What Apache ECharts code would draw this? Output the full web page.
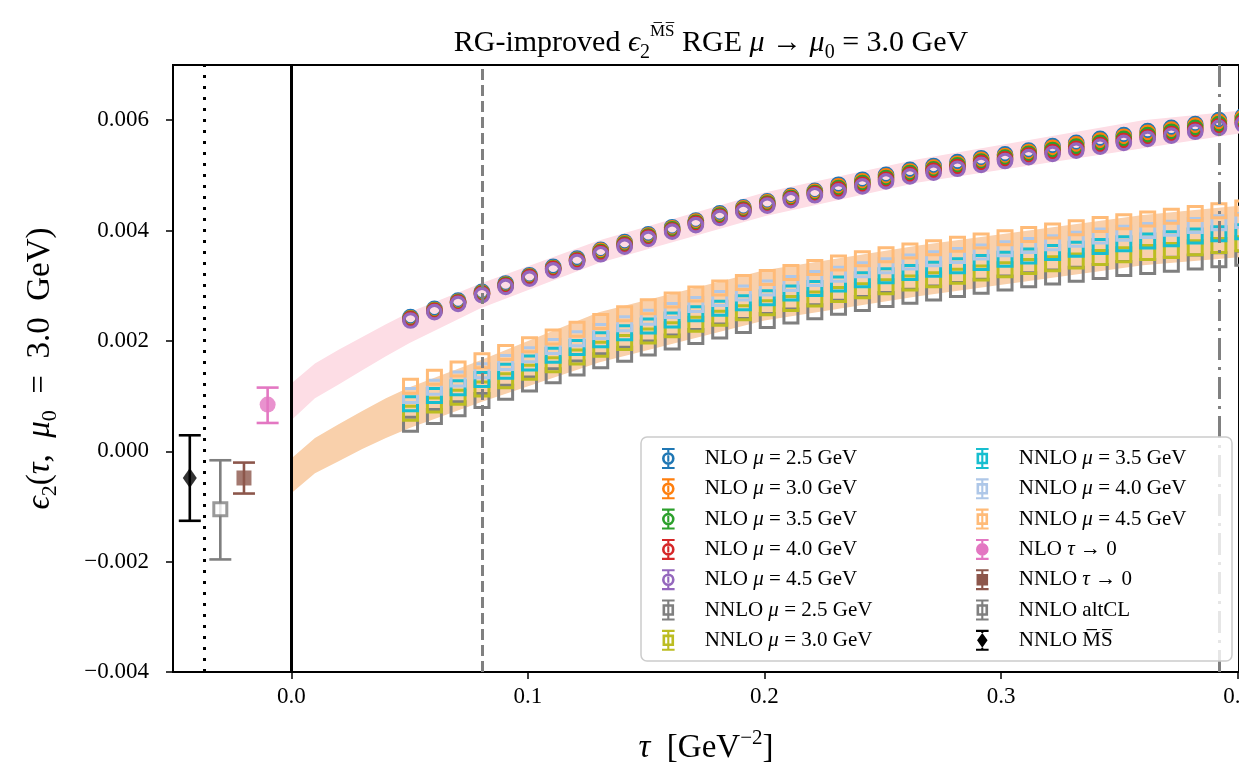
<!DOCTYPE html>
<html>
<head>
<meta charset="utf-8">
<script src="https://cdn.jsdelivr.net/npm/echarts@6/dist/echarts.min.js"></script>
<style>
html, body { margin: 0; padding: 0; background: #fff; }
#chart { width: 1239px; height: 767px; }
</style>
</head>
<body>
<div id="chart"></div>
<script>
// flow time grid (GeV^-2)
var tau = [0.0504, 0.0605, 0.0705, 0.0806, 0.0906, 0.1007, 0.1107, 0.1208, 0.1308, 0.1409,
           0.1509, 0.1610, 0.1710, 0.1811, 0.1911, 0.2012, 0.2112, 0.2213, 0.2313, 0.2414,
           0.2514, 0.2615, 0.2715, 0.2816, 0.2916, 0.3017, 0.3117, 0.3218, 0.3318, 0.3419,
           0.3519, 0.3620, 0.3720, 0.3821, 0.3921, 0.4022];

// NLO, mu = 2.5 ... 4.5 GeV
var nlo25 = [0.00243,0.00258,0.00273,0.00289,0.00304,0.00319,0.00334,0.00349,0.00365,0.00379,0.00393,0.00406,0.00418,0.00431,0.00442,0.00453,0.00463,0.00472,0.00483,0.00492,0.00501,0.00510,0.00517,0.00524,0.00531,0.00538,0.00545,0.00553,0.00559,0.00566,0.00573,0.00580,0.00586,0.00593,0.00600,0.00607];
var nlo30 = [0.00241,0.00256,0.00271,0.00287,0.00302,0.00317,0.00332,0.00347,0.00363,0.00377,0.00391,0.00404,0.00416,0.00429,0.00440,0.00451,0.00461,0.00470,0.00480,0.00489,0.00498,0.00507,0.00514,0.00521,0.00528,0.00535,0.00542,0.00550,0.00556,0.00563,0.00570,0.00577,0.00583,0.00590,0.00597,0.00604];
var nlo35 = [0.00240,0.00255,0.00270,0.00286,0.00301,0.00316,0.00331,0.00346,0.00361,0.00375,0.00389,0.00402,0.00414,0.00427,0.00438,0.00449,0.00459,0.00468,0.00477,0.00486,0.00495,0.00504,0.00511,0.00518,0.00525,0.00532,0.00539,0.00546,0.00552,0.00559,0.00566,0.00573,0.00579,0.00586,0.00593,0.00600];
var nlo40 = [0.00239,0.00254,0.00269,0.00285,0.00300,0.00315,0.00330,0.00345,0.00359,0.00373,0.00387,0.00400,0.00412,0.00425,0.00436,0.00447,0.00457,0.00466,0.00474,0.00483,0.00492,0.00501,0.00508,0.00515,0.00522,0.00529,0.00536,0.00542,0.00548,0.00555,0.00562,0.00569,0.00575,0.00582,0.00589,0.00596];
var nlo45 = [0.00237,0.00252,0.00267,0.00283,0.00298,0.00313,0.00328,0.00343,0.00357,0.00371,0.00385,0.00398,0.00410,0.00423,0.00434,0.00445,0.00455,0.00464,0.00471,0.00480,0.00489,0.00498,0.00505,0.00512,0.00519,0.00526,0.00533,0.00539,0.00545,0.00552,0.00559,0.00566,0.00572,0.00579,0.00586,0.00593];

// NNLO, mu = 2.5 ... 4.5 GeV
var nnlo25 = [0.00049,0.00063,0.00077,0.00092,0.00107,0.00122,0.00137,0.00151,0.00164,0.00176,0.00187,0.00198,0.00208,0.00218,0.00228,0.00237,0.00245,0.00253,0.00261,0.00268,0.00275,0.00281,0.00287,0.00293,0.00299,0.00305,0.00311,0.00316,0.00321,0.00326,0.00331,0.00335,0.00339,0.00343,0.00347,0.00350];
var nnlo30 = [0.00069,0.00084,0.00098,0.00113,0.00128,0.00143,0.00157,0.00171,0.00185,0.00197,0.00209,0.00220,0.00230,0.00241,0.00251,0.00260,0.00268,0.00276,0.00284,0.00291,0.00298,0.00305,0.00311,0.00317,0.00323,0.00329,0.00335,0.00340,0.00345,0.00351,0.00356,0.00360,0.00364,0.00369,0.00373,0.00376];
var nnlo35 = [0.00086,0.00101,0.00115,0.00130,0.00145,0.00160,0.00174,0.00188,0.00202,0.00215,0.00227,0.00238,0.00249,0.00259,0.00269,0.00278,0.00287,0.00295,0.00303,0.00311,0.00318,0.00324,0.00330,0.00336,0.00342,0.00348,0.00354,0.00360,0.00366,0.00371,0.00376,0.00381,0.00385,0.00390,0.00394,0.00398];
var nnlo40 = [0.00101,0.00116,0.00131,0.00146,0.00161,0.00175,0.00190,0.00204,0.00217,0.00231,0.00243,0.00255,0.00266,0.00277,0.00287,0.00296,0.00304,0.00313,0.00321,0.00329,0.00336,0.00343,0.00349,0.00355,0.00361,0.00367,0.00373,0.00378,0.00384,0.00390,0.00395,0.00400,0.00404,0.00409,0.00414,0.00418];
var nnlo45 = [0.00118,0.00134,0.00149,0.00164,0.00179,0.00193,0.00207,0.00221,0.00235,0.00249,0.00262,0.00274,0.00285,0.00296,0.00306,0.00315,0.00324,0.00333,0.00341,0.00349,0.00356,0.00363,0.00369,0.00375,0.00381,0.00387,0.00393,0.00399,0.00405,0.00411,0.00416,0.00421,0.00426,0.00431,0.00436,0.00441];

// tau -> 0 extrapolation bands
var bandTau  = [0, 0.01, 0.02, 0.03, 0.04, 0.05, 0.08, 0.13, 0.2, 0.265, 0.36, 0.41];
var nloLo    = [0.00056,0.00096,0.00121,0.00147,0.00172,0.00196,0.00259,0.00341,0.00426,0.00487,0.00549,0.00582];
var nloHi    = [0.00123,0.00159,0.00184,0.00207,0.00230,0.00252,0.00304,0.00382,0.00469,0.00529,0.00600,0.00621];
var nnloLo   = [-0.00076,-0.00040,-0.00018,0.00004,0.00024,0.00042,0.00089,0.00161,0.00237,0.00281,0.00337,0.00355];
var nnloHi   = [-0.00013,0.00024,0.00049,0.00073,0.00096,0.00116,0.00165,0.00252,0.00328,0.00373,0.00428,0.00449];

// points left of tau = 0: NLO tau->0, NNLO tau->0, NNLO altCL, NNLO MSbar
var pointX  = [-0.01, -0.02, -0.03, -0.0429];
var pointY  = [0.000846, -0.000484, -0.00105, -0.000484];
var pointLo = [0.000513, -0.000766, -0.00196, -0.00126];
var pointHi = [0.001154, -0.000205, -0.000163, 0.00029];

var vlineX = [0, -0.0366, 0.0806, 0.3921];
var xTicks = [0, 0.1, 0.2, 0.3, 0.4];
var yTicks = [-0.004, -0.002, 0, 0.002, 0.004, 0.006];

var serif = "'Liberation Serif', 'DejaVu Serif', serif";
var nloColors  = ['#1f77b4', '#ff7f0e', '#2ca02c', '#d62728', '#9467bd'];
var nnloColors = ['#7f7f7f', '#bcbd22', '#17becf', '#aec7e8', '#ffbb78'];
var pointColors = ['#e377c2', '#8c564b', '#7f7f7f', '#000000'];
var vlineStyles = [
    { color: '#000', width: 3, type: 'solid' },
    { color: '#000', width: 3, type: [3, 8] },
    { color: '#808080', width: 3, type: [11, 5] },
    { color: '#808080', width: 3, type: [22, 7, 3, 7] }
];

var icons = {
    circOpen: 'path://M1 0L13 0L13 2L1 2Z M1 18L13 18L13 20L1 20Z M6 2L8 2L8 4L6 4Z M6 16L8 16L8 18L6 18Z M6 7L8 7L8 13L6 13Z M1 10A6 6 0 1 1 13 10A6 6 0 1 1 1 10Z M3.5 10A3.5 3.5 0 1 0 10.5 10A3.5 3.5 0 1 0 3.5 10Z',
    sqOpen: 'path://M1 0L13 0L13 2L1 2Z M1 18L13 18L13 20L1 20Z M6 2L8 2L8 4.5L6 4.5Z M6 15.5L8 15.5L8 18L6 18Z M6 7L8 7L8 13L6 13Z M1.5 4.5L12.5 4.5L12.5 15.5L1.5 15.5Z M4 7L4 13L10 13L10 7Z',
    circFull: 'path://M1 0L13 0L13 2L1 2Z M1 18L13 18L13 20L1 20Z M6 2L8 2L8 4L6 4Z M6 16L8 16L8 18L6 18Z M1 10A6 6 0 1 1 13 10A6 6 0 1 1 1 10Z',
    sqFull: 'path://M1 0L13 0L13 2L1 2Z M1 18L13 18L13 20L1 20Z M6 2L8 2L8 4.5L6 4.5Z M6 15.5L8 15.5L8 18L6 18Z M1.5 4.5L12.5 4.5L12.5 15.5L1.5 15.5Z',
    diamond: 'path://M1 0L13 0L13 2L1 2Z M1 18L13 18L13 20L1 20Z M6 2L8 2L8 3L6 3Z M6 17L8 17L8 18L6 18Z M7 3L12 10L7 17L2 10Z'
};

var mus = ['2.5', '3.0', '3.5', '4.0', '4.5'];
var nloSets = [nlo25, nlo30, nlo35, nlo40, nlo45];
var nnloSets = [nnlo25, nnlo30, nnlo35, nnlo40, nnlo45];
var pointNames = ['NLO τ → 0', 'NNLO τ → 0', 'NNLO altCL', 'NNLO M\u0305S\u0305'];

function pairs(xs, ys) {
    return xs.map(function (x, i) { return [x, ys[i]]; });
}

function bandSeries(lo, hi, color) {
    var pts = bandTau.map(function (t, i) { return [t, lo[i], hi[i]]; });
    return {
        type: 'custom', silent: true, z: 1,
        data: pts,
        encode: { x: 0, y: [1, 2] },
        renderItem: function (params, api) {
            if (params.dataIndex !== 0) return null;
            var upper = pts.map(function (p) { return api.coord([p[0], p[2]]); });
            var lower = pts.map(function (p) { return api.coord([p[0], p[1]]); }).reverse();
            return { type: 'polygon', shape: { points: upper.concat(lower) }, style: { fill: color } };
        }
    };
}

var series = [];
var legendInfo = {};

series.push(bandSeries(nloLo, nloHi, '#fddde5'));
var nnloBand = bandSeries(nnloLo, nnloHi, '#f9d0ab');
nnloBand.markLine = {
    silent: true, symbol: ['none', 'none'], label: { show: false }, animation: false, precision: 5,
    data: vlineX.map(function (x, i) { return { xAxis: x, lineStyle: vlineStyles[i] }; })
};
series.push(nnloBand);

mus.forEach(function (mu, k) {
    var name = 'NLO μ = ' + mu + ' GeV';
    legendInfo[name] = { icon: icons.circOpen, color: nloColors[k] };
    series.push({
        name: name, type: 'scatter', z: 2, clip: false,
        data: pairs(tau, nloSets[k]),
        symbol: 'circle', symbolSize: 13.5,
        itemStyle: { color: 'rgba(255,255,255,0)', borderColor: nloColors[k], borderWidth: 3.2, opacity: 1 }
    });
});
mus.forEach(function (mu, k) {
    var name = 'NNLO μ = ' + mu + ' GeV';
    legendInfo[name] = { icon: icons.sqOpen, color: nnloColors[k] };
    series.push({
        name: name, type: 'scatter', z: 2, clip: false,
        data: pairs(tau, nnloSets[k]),
        symbol: 'rect', symbolSize: 14,
        itemStyle: { color: 'rgba(255,255,255,0)', borderColor: nnloColors[k], borderWidth: 3, opacity: 1 }
    });
});

// error bars for the tau -> 0 / reference points
series.push({
    type: 'custom', silent: true, z: 2,
    data: pointX.map(function (x, i) { return [x, pointLo[i], pointHi[i]]; }),
    encode: { x: 0, y: [1, 2] },
    renderItem: function (params, api) {
        var top = api.coord([api.value(0), api.value(2)]);
        var bot = api.coord([api.value(0), api.value(1)]);
        var st = { stroke: pointColors[params.dataIndex], lineWidth: 2.6 };
        return { type: 'group', children: [
            { type: 'line', shape: { x1: top[0], y1: top[1], x2: bot[0], y2: bot[1] }, style: st },
            { type: 'line', shape: { x1: top[0] - 11, y1: top[1], x2: top[0] + 11, y2: top[1] }, style: st },
            { type: 'line', shape: { x1: bot[0] - 11, y1: bot[1], x2: bot[0] + 11, y2: bot[1] }, style: st }
        ] };
    }
});

var pointSymbols = [
    { symbol: 'circle', size: 16, icon: icons.circFull, style: { color: pointColors[0] } },
    { symbol: 'rect', size: 15, icon: icons.sqFull, style: { color: pointColors[1] } },
    { symbol: 'rect', size: 13, icon: icons.sqOpen, style: { color: '#fff', borderColor: pointColors[2], borderWidth: 3 } },
    { symbol: 'diamond', size: [14, 20], icon: icons.diamond, style: { color: pointColors[3] } }
];
pointNames.forEach(function (name, k) {
    legendInfo[name] = { icon: pointSymbols[k].icon, color: pointColors[k] };
    series.push({
        name: name, type: 'scatter', z: 2,
        data: [[pointX[k], pointY[k]]],
        symbol: pointSymbols[k].symbol, symbolSize: pointSymbols[k].size,
        itemStyle: pointSymbols[k].style
    });
});

var legendOrder = Object.keys(legendInfo);
var legendCol1 = legendOrder.slice(0, 7);
var legendCol2 = legendOrder.slice(7);

function legendFmt(name) {
    return '{g| }' + name.replace(/(μ|τ)/g, '{i|$1}');
}

function legendCfg(names, left) {
    return {
        orient: 'vertical', left: left, top: 448, padding: 0,
        itemGap: 9.3, itemWidth: 15, itemHeight: 21,
        selectedMode: false, z: 11,
        data: names.map(function (n) {
            return { name: n, icon: legendInfo[n].icon, itemStyle: { color: legendInfo[n].color, borderWidth: 0, opacity: 1 } };
        }),
        formatter: legendFmt,
        textStyle: {
            fontFamily: serif, fontSize: 21, color: '#000', lineHeight: 20,
            rich: {
                g: { width: 24, fontSize: 21, lineHeight: 20 },
                i: { fontStyle: 'italic', fontFamily: serif, fontSize: 21, color: '#000', lineHeight: 20 }
            }
        }
    };
}

var tickFmtY = function (v) {
    return (v < 0 ? '\u2212' : '') + Math.abs(v).toFixed(3);
};

var titleRich = {
    r: { fontFamily: serif, fontSize: 30, fontWeight: 'normal', color: '#000', lineHeight: 40 },
    i: { fontFamily: serif, fontStyle: 'italic', fontWeight: 'normal', fontSize: 30, color: '#000', lineHeight: 40 },
    sub: { fontFamily: serif, fontSize: 20, fontWeight: 'normal', color: '#000', verticalAlign: 'bottom', lineHeight: 40 },
    sup: { fontFamily: serif, fontSize: 17, fontWeight: 'normal', color: '#000', verticalAlign: 'top', lineHeight: 40 }
};

var option = {
    animation: false,
    backgroundColor: '#fff',
    title: {
        text: '{r|RG-improved }{i|ϵ}{sub|2}{sup|M\u0305S\u0305}{r| RGE }{i|μ}{r| → }{i|μ}{sub|0}{r| = 3.0 GeV}',
        left: 706, top: 18, textAlign: 'center',
        textStyle: { fontWeight: 'normal', fontFamily: serif, fontSize: 30, rich: titleRich }
    },
    grid: {
        left: 173, right: 0, top: 65, bottom: 95,
        outerBoundsMode: 'none', containLabel: false,
        show: true, borderColor: '#000', borderWidth: 2, backgroundColor: 'transparent'
    },
    xAxis: {
        type: 'value', min: -0.05, max: 0.4006,
        name: '{i|τ}{r|  [GeV}{sup|\u22122}{r|]}',
        nameLocation: 'middle', nameGap: 56,
        nameTextStyle: {
            rich: {
                r: { fontFamily: serif, fontSize: 33, color: '#000', lineHeight: 40 },
                i: { fontFamily: serif, fontStyle: 'italic', fontSize: 33, color: '#000', lineHeight: 40 },
                sup: { fontFamily: serif, fontSize: 21, color: '#000', verticalAlign: 'top', lineHeight: 40 }
            }
        },
        axisLine: { onZero: false, lineStyle: { color: '#000', width: 2 } },
        axisTick: { customValues: xTicks, length: 7, lineStyle: { color: '#000', width: 1.5 } },
        axisLabel: {
            customValues: xTicks, margin: 13,
            formatter: function (v) { return v.toFixed(1); },
            fontFamily: serif, fontSize: 23, color: '#000'
        },
        splitLine: { show: false }
    },
    yAxis: {
        type: 'value', min: -0.004, max: 0.007,
        name: '{i|ϵ}{sub|2}{r|(}{i|τ}{r|,  }{i|μ}{sub|0}{r|  =  3.0  GeV)}',
        nameLocation: 'middle', nameGap: 112, nameRotate: 90,
        nameTextStyle: {
            rich: {
                r: { fontFamily: serif, fontSize: 33, color: '#000', lineHeight: 42 },
                i: { fontFamily: serif, fontStyle: 'italic', fontSize: 33, color: '#000', lineHeight: 42 },
                sub: { fontFamily: serif, fontSize: 22, color: '#000', verticalAlign: 'bottom', lineHeight: 42 }
            }
        },
        axisLine: { onZero: false, lineStyle: { color: '#000', width: 2 } },
        axisTick: { customValues: yTicks, length: 7, lineStyle: { color: '#000', width: 1.5 } },
        axisLabel: {
            customValues: yTicks, margin: 24,
            formatter: tickFmtY,
            fontFamily: serif, fontSize: 23, color: '#000'
        },
        splitLine: { show: false }
    },
    legend: [legendCfg(legendCol1, 662), legendCfg(legendCol2, 976)],
    graphic: [{
        type: 'rect', z: 10, silent: true,
        shape: { x: 641, y: 437, width: 591, height: 224, r: 6 },
        style: { fill: 'rgba(255,255,255,0.8)', stroke: '#cccccc', lineWidth: 1.5 }
    }],
    series: series
};

var chart = echarts.init(document.getElementById('chart'));
chart.setOption(option);
</script>
</body>
</html>
